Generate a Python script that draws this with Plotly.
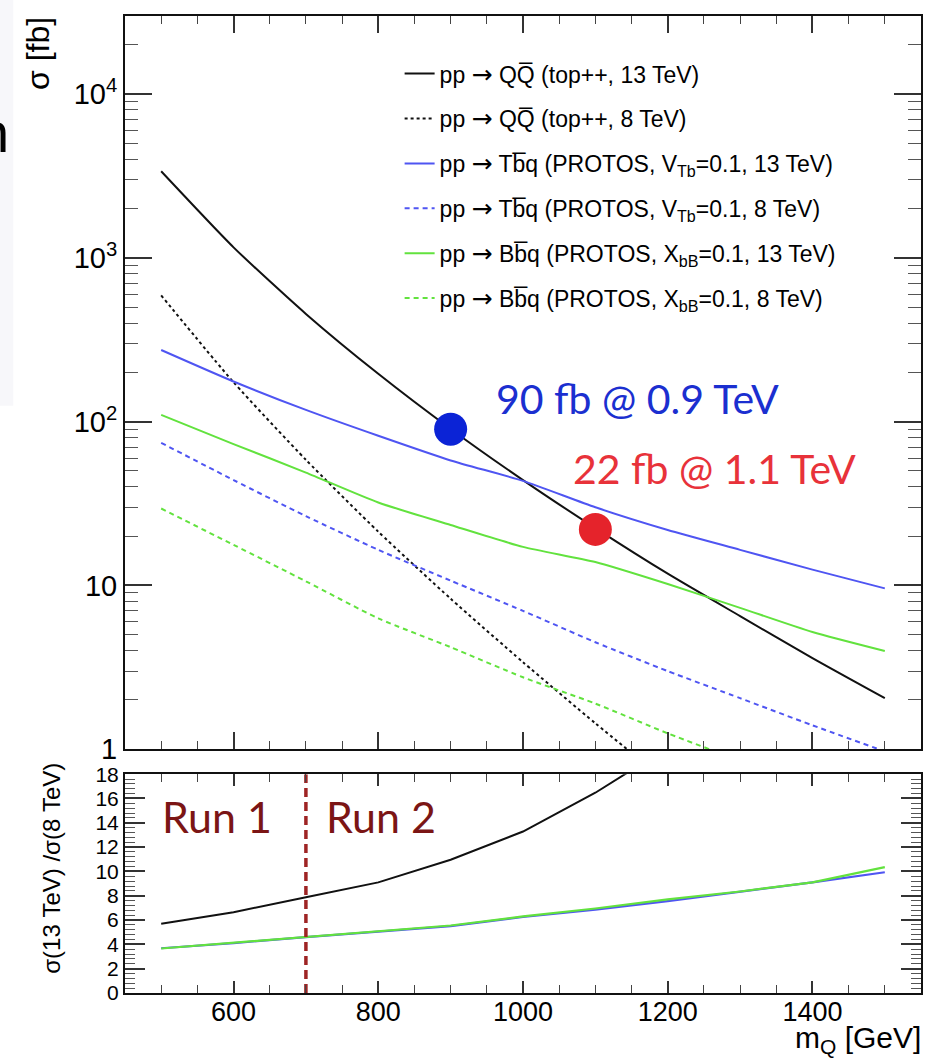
import plotly.graph_objects as go

# Heavy-quark mass points [GeV]
mass = [500, 600, 700, 800, 900, 1000, 1100, 1200, 1300, 1400, 1500]

# Cross sections [fb]
xs_qq_13 = [3380, 1160, 455, 196, 90.3, 44.0, 22.4, 11.8, 6.5, 3.6, 2.05]
xs_qq_8 = [590, 174, 58.5, 21.3, 8.3, 3.4, 1.44, 0.63, 0.28, 0.13, 0.06]
xs_tbq_13 = [274, 176, 118, 82, 58, 43.5, 30, 21.8, 16.5, 12.5, 9.6]
xs_tbq_8 = [74.3, 44, 26.5, 16.5, 10.7, 7.0, 4.5, 3.0, 2.05, 1.4, 0.97]
xs_bbq_13 = [110, 73, 48.9, 32.1, 23.4, 17.2, 13.9, 10.2, 7.3, 5.2, 3.98]
xs_bbq_8 = [29.5, 17.7, 10.6, 6.3, 4.2, 2.75, 1.9, 1.25, 0.85, 0.57, 0.385]

# 13 TeV / 8 TeV ratios
ratio_qq = [5.70, 6.65, 7.88, 9.10, 10.96, 13.28, 16.47, 20.2]
ratio_tbq = [3.68, 4.10, 4.60, 5.05, 5.50, 6.25, 6.85, 7.55, 8.30, 9.10, 9.93]
ratio_bbq = [3.66, 4.13, 4.62, 5.10, 5.55, 6.30, 6.95, 7.70, 8.35, 9.10, 10.35]

# Highlighted benchmark points: (mass [GeV], cross section [fb])
bench_mass = [900, 1100]
bench_xs = [90, 22]
bench_text = ["90 fb @ 0.9 TeV", "22 fb @ 1.1 TeV"]

run_boundary = 700

ARROW = '<span style="font-family:DejaVu Sans;font-size:25px">\u2192</span>'
legend_names = [
    f"pp {ARROW} QQ\u0305 (top++, 13 TeV)",
    f"pp {ARROW} QQ\u0305 (top++, 8 TeV)",
    f"pp {ARROW} Tb\u0305q (PROTOS, V<sub>Tb</sub>=0.1, 13 TeV)",
    f"pp {ARROW} Tb\u0305q (PROTOS, V<sub>Tb</sub>=0.1, 8 TeV)",
    f"pp {ARROW} Bb\u0305q (PROTOS, X<sub>bB</sub>=0.1, 13 TeV)",
    f"pp {ARROW} Bb\u0305q (PROTOS, X<sub>bB</sub>=0.1, 8 TeV)",
]

BLACK = "#111111"
BLUE = "#4f55f2"
GREEN = "#62e23e"
FONT = "Liberation Sans, Arial, sans-serif"
HFONT = "Lato, Open Sans, sans-serif"

fig = go.Figure()

series = [
    (xs_qq_13, BLACK, "solid"),
    (xs_qq_8, BLACK, "3px,3px"),
    (xs_tbq_13, BLUE, "solid"),
    (xs_tbq_8, BLUE, "5px,4px"),
    (xs_bbq_13, GREEN, "solid"),
    (xs_bbq_8, GREEN, "5px,4px"),
]
for i, (vals, col, dash) in enumerate(series):
    fig.add_trace(go.Scatter(
        x=mass, y=vals, mode="lines", name=legend_names[i],
        line=dict(color=col, width=2, dash=dash, shape="spline", smoothing=0.6),
        legendgroup=f"g{i}", xaxis="x", yaxis="y",
    ))

# Benchmark markers
fig.add_trace(go.Scatter(
    x=bench_mass, y=bench_xs, mode="markers", showlegend=False,
    marker=dict(size=33, color=["#0b23d6", "#e5232b"], line=dict(width=0)),
    xaxis="x", yaxis="y",
))

# Ratio panel
fig.add_trace(go.Scatter(x=mass[:len(ratio_qq)], y=ratio_qq, mode="lines",
                         line=dict(color=BLACK, width=2), showlegend=False,
                         xaxis="x2", yaxis="y2"))
fig.add_trace(go.Scatter(x=mass, y=ratio_tbq, mode="lines",
                         line=dict(color=BLUE, width=2.2), showlegend=False,
                         xaxis="x2", yaxis="y2"))
fig.add_trace(go.Scatter(x=mass, y=ratio_bbq, mode="lines",
                         line=dict(color=GREEN, width=2.2), showlegend=False,
                         xaxis="x2", yaxis="y2"))
fig.add_trace(go.Scatter(x=[run_boundary, run_boundary], y=[0, 18], mode="lines",
                         line=dict(color="#9e2424", width=3.5, dash="9px,5px"),
                         showlegend=False, xaxis="x2", yaxis="y2"))

xrange = [450, 1550]
log_minor = [k * 10 ** d for d in range(0, 5) for k in range(2, 10)]

common_x = dict(range=xrange, tick0=0, dtick=200, ticks="inside",
                showline=True, linewidth=2, linecolor=BLACK, mirror="ticks",
                tickcolor="#333333", tickwidth=1.5, showgrid=False, zeroline=False,
                minor=dict(dtick=50, ticks="inside", ticklen=8, tickcolor="#444444",
                           tickwidth=1.2, showgrid=False))

fig.update_layout(
    width=927, height=1059,
    margin=dict(l=125, r=4, t=11, b=66),
    paper_bgcolor="white", plot_bgcolor="white",
    font=dict(family=FONT, color="black"),
    xaxis=dict(common_x, anchor="y", matches="x2", showticklabels=False, ticklen=17),
    yaxis=dict(type="log", domain=[0.2495, 1.0], range=[0, 4.477],
               tickmode="array", tickvals=[1, 10, 100, 1000, 10000],
               ticktext=["1", "10", "10<sup>2</sup>", "10<sup>3</sup>", "10<sup>4</sup>"],
               ticks="inside", ticklen=27, tickwidth=1.5, tickcolor="#333333",
               showline=True, linewidth=2, linecolor=BLACK, mirror="ticks",
               showgrid=False, zeroline=False,
               tickfont=dict(size=29, family=FONT, color="black"),
               minor=dict(tickmode="array", tickvals=log_minor, ticks="inside",
                          ticklen=13, tickcolor="#555555", tickwidth=1.3, showgrid=False),
               anchor="x"),
    xaxis2=dict(common_x, anchor="y2", ticklen=12, ticklabelstandoff=-6,
                tickfont=dict(size=27, family=FONT, color="black")),
    yaxis2=dict(domain=[0, 0.224], range=[0, 18], dtick=2, tick0=0,
                ticks="inside", ticklen=20, tickwidth=1.5, tickcolor="#333333",
                showline=True, linewidth=2, linecolor=BLACK, mirror="ticks",
                showgrid=False, zeroline=False,
                tickfont=dict(size=21, family=FONT, color="black"),
                minor=dict(dtick=0.4, ticks="inside", ticklen=10, tickcolor="#555555",
                           tickwidth=1.2, showgrid=False),
                anchor="x2"),
    legend=dict(x=0.345, y=0.963, xanchor="left", yanchor="top",
                bgcolor="rgba(0,0,0,0)", borderwidth=0, tracegroupgap=12,
                font=dict(size=23, family=FONT, color="black"),
                itemwidth=30),
    showlegend=True,
)

annotations = [
    dict(text="\u03c3 [fb]", xref="paper", yref="paper", x=-0.11, y=1.001,
         xanchor="center", yanchor="top", textangle=-90, showarrow=False,
         font=dict(size=32, family=FONT, color="black")),
    dict(text="\u03c3(13 TeV) /\u03c3(8 TeV)", xref="paper", yref="paper", x=-0.092,
         y=0.238, xanchor="center", yanchor="top", textangle=-90, showarrow=False,
         font=dict(size=24, family=FONT, color="black")),
    dict(text="m<sub>Q</sub> [GeV]", xref="paper", yref="paper", x=1.003, y=-0.069,
         xanchor="right", yanchor="bottom", showarrow=False,
         font=dict(size=30, family=FONT, color="black")),
    # benchmark labels; y given in log10 units on the log axis
    dict(text=bench_text[0], xref="x", yref="y", x=1158, y=2.14,
         xanchor="center", yanchor="middle", showarrow=False,
         font=dict(size=41, family=HFONT, color="#1b2fd0")),
    dict(text=bench_text[1], xref="x", yref="y", x=1264, y=1.715,
         xanchor="center", yanchor="middle", showarrow=False,
         font=dict(size=41, family=HFONT, color="#e8323a")),
    dict(text="Run 1", xref="x2", yref="y2", x=577, y=14.5,
         xanchor="center", yanchor="middle", showarrow=False,
         font=dict(size=43, family=HFONT, color="#7b1515")),
    dict(text="Run 2", xref="x2", yref="y2", x=804, y=14.5,
         xanchor="center", yanchor="middle", showarrow=False,
         font=dict(size=43, family=HFONT, color="#7b1515")),
    dict(text="n", xref="paper", yref="paper", x=-0.1566, y=0.881,
         xanchor="right", yanchor="middle", showarrow=False, xshift=11,
         font=dict(size=56, family=FONT, color="black")),
]
fig.update_layout(annotations=annotations)

fig.add_shape(type="rect", xref="paper", yref="paper", x0=-0.16, x1=-0.1404,
              y0=0.601, y1=1.02, fillcolor="#f7f7fa", line=dict(width=0), layer="below")

fig.write_html("out.html")
